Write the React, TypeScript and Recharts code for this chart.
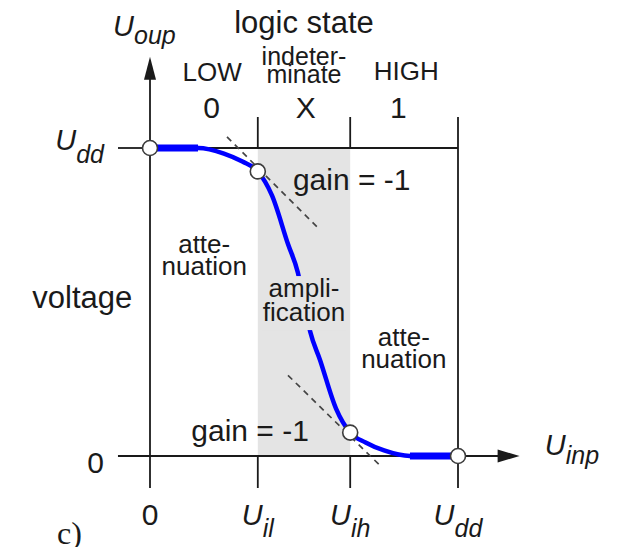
import React from 'react';
import {
  ComposedChart,
  Line,
  XAxis,
  YAxis,
  ReferenceArea,
  ReferenceLine,
  ReferenceDot,
} from 'recharts';

// Transfer curve of an inverter, supply U_dd = 5 V
const inputVoltage = [0, 0.78, 1.2, 1.5, 1.75, 1.98, 2.24, 2.4, 2.5, 2.6, 2.76, 3.02, 3.25, 3.5, 3.8, 4.22, 5];
const outputVoltage = [5, 5, 4.91, 4.78, 4.62, 4.23, 3.44, 2.98, 2.5, 2.02, 1.56, 0.77, 0.38, 0.22, 0.09, 0, 0];

const U_DD = 5;
const U_IL = 1.75;
const U_IH = 3.25;

// end points and the two points where gain = -1
const markerIndex = [0, 4, 12, 16];

// tangents with slope -1 at U_il and U_ih
const upperTangent = [{ x: 1.25, y: 5.18 }, { x: 2.76, y: 3.67 }];
const lowerTangent = [{ x: 2.24, y: 1.31 }, { x: 3.77, y: -0.19 }];

const inputTicks = [0, U_IL, U_IH, U_DD];
const inputTickLabels = [['0', ''], ['U', 'il'], ['U', 'ih'], ['U', 'dd']];
const outputTicks = [0, U_DD];
const outputTickLabels = [['0', ''], ['U', 'dd']];
const regionTicks = [U_IL, U_IH, U_DD];

const stateNames = [['LOW'], ['indeter-', 'minate'], ['HIGH']];
const stateSymbols = ['0', 'X', '1'];

const FONT = 'Liberation Sans, Arial, Helvetica, sans-serif';
const INK = '#1a1a1a';
const BLUE = '#0000ff';
const SHADE = '#e4e4e4';

const curve = inputVoltage.map((x, i) => ({ x, y: outputVoltage[i] }));

type NoteOpts = {
  size?: number;
  anchor?: 'start' | 'middle' | 'end';
  lineHeight?: number;
  background?: string;
};

// multi-line text, drawn as the shape of a reference dot
const note = (lines: string[], { size = 26, anchor = 'middle', lineHeight = 22, background }: NoteOpts = {}) =>
  (props: any) => (
    <g>
      {background && (
        <rect
          x={props.cx - 42}
          y={props.cy - 21}
          width={84}
          height={lineHeight * (lines.length - 1) + 30}
          fill={background}
        />
      )}
      <text x={props.cx} y={props.cy} fontSize={size} textAnchor={anchor} fontFamily={FONT} fill={INK}>
        {lines.map((line, i) => (
          <tspan key={line} x={props.cx} dy={i === 0 ? 0 : lineHeight}>
            {line}
          </tspan>
        ))}
      </text>
    </g>
  );

const symbol = (main: string, sub: string, shift = 8) => (props: any) => (
  <text x={props.cx} y={props.cy} fontFamily={FONT} fontStyle="italic" fill={INK}>
    <tspan fontSize={29}>{main}</tspan>
    <tspan fontSize={25} dy={shift}>{sub}</tspan>
  </text>
);

const arrowUp = (p: any) => (
  <polygon points={`${p.cx},${p.cy} ${p.cx - 6},${p.cy + 23} ${p.cx + 6},${p.cy + 23}`} fill={INK} />
);
const arrowRight = (p: any) => (
  <polygon points={`${p.cx},${p.cy} ${p.cx - 22},${p.cy - 6.5} ${p.cx - 22},${p.cy + 6.5}`} fill={INK} />
);

const marker = (p: any) => (
  <circle cx={p.cx} cy={p.cy} r={7.5} fill="#fff" stroke="#3c3c3c" strokeWidth={1.6} />
);

const InputTick = ({ x, y, payload }: any) => {
  const [main, sub] = inputTickLabels[inputTicks.indexOf(payload.value)];
  return (
    <text x={x} y={y + 35} textAnchor="middle" fontFamily={FONT} fill={INK} fontStyle={sub ? 'italic' : 'normal'}>
      <tspan fontSize={sub ? 29 : 30}>{main}</tspan>
      {sub && (
        <tspan fontSize={25} dy={12}>
          {sub}
        </tspan>
      )}
    </text>
  );
};

const OutputTick = ({ x, y, payload }: any) => {
  const [main, sub] = outputTickLabels[outputTicks.indexOf(payload.value)];
  if (!sub) {
    return (
      <text x={x - 12} y={y + 17} textAnchor="end" fontFamily={FONT} fontSize={30} fill={INK}>
        {main}
      </text>
    );
  }
  return (
    <text x={x - 12} y={y + 2} textAnchor="end" fontFamily={FONT} fontStyle="italic" fill={INK}>
      <tspan fontSize={29}>{main}</tspan>
      <tspan fontSize={25} dy={13}>
        {sub}
      </tspan>
    </text>
  );
};

const lineStyle = { stroke: INK, strokeWidth: 1.8 };
const tangentStyle = { stroke: '#444', strokeWidth: 1.7, strokeDasharray: '6 5' };

export default function App() {
  return (
    <div style={{ margin: -8 }}>
      <ComposedChart width={618} height={555} data={curve} margin={{ top: 117, right: 160, bottom: 0, left: 0 }}>
        <XAxis
          dataKey="x"
          type="number"
          domain={[0, U_DD]}
          ticks={inputTicks}
          interval={0}
          height={99}
          tickSize={32}
          axisLine={false}
          tickLine={lineStyle}
          tick={InputTick}
        />
        <XAxis
          xAxisId="top"
          orientation="top"
          dataKey="x"
          type="number"
          domain={[0, U_DD]}
          ticks={regionTicks}
          interval={0}
          height={31}
          tickSize={31}
          axisLine={false}
          tickLine={lineStyle}
          tick={() => <g />}
        />
        <YAxis
          type="number"
          domain={[0, U_DD]}
          ticks={outputTicks}
          interval={0}
          width={150}
          tickSize={32}
          axisLine={false}
          tickLine={lineStyle}
          tick={OutputTick}
        />

        {/* indeterminate input range */}
        <ReferenceArea x1={U_IL} x2={U_IH} y1={0} y2={U_DD} fill={SHADE} fillOpacity={1} stroke="none" zIndex={-50} />

        {/* frame and axes */}
        <ReferenceLine y={U_DD} {...lineStyle} zIndex={300} />
        <ReferenceLine x={U_DD} {...lineStyle} zIndex={300} />
        <ReferenceLine segment={[{ x: 0, y: 0 }, { x: 0, y: 6.2 }]} ifOverflow="visible" {...lineStyle} zIndex={300} />
        <ReferenceLine segment={[{ x: -0.52, y: 0 }, { x: 5.8, y: 0 }]} ifOverflow="visible" {...lineStyle} zIndex={300} />

        {/* gain = -1 tangents */}
        <ReferenceLine segment={upperTangent} ifOverflow="visible" {...tangentStyle} zIndex={300} />
        <ReferenceLine segment={lowerTangent} ifOverflow="visible" {...tangentStyle} zIndex={300} />

        <Line dataKey="y" type="monotone" stroke={BLUE} strokeWidth={4.5} dot={false} isAnimationActive={false} />
        <Line data={curve.slice(0, 2)} dataKey="y" type="linear" stroke={BLUE} strokeWidth={7} dot={false} isAnimationActive={false} />
        <Line data={curve.slice(-2)} dataKey="y" type="linear" stroke={BLUE} strokeWidth={7} dot={false} isAnimationActive={false} />

        <ReferenceDot x={0} y={6.48} ifOverflow="visible" shape={arrowUp} zIndex={600} />
        <ReferenceDot x={6.0} y={0} ifOverflow="visible" shape={arrowRight} zIndex={600} />

        {markerIndex.map((i) => (
          <ReferenceDot key={i} x={inputVoltage[i]} y={outputVoltage[i]} ifOverflow="visible" shape={marker} zIndex={700} />
        ))}

        {/* logic state header */}
        <ReferenceDot x={2.5} y={6.87} ifOverflow="visible" shape={note(['logic state'], { size: 31 })} zIndex={2000} />
        <ReferenceDot x={1.01} y={6.09} ifOverflow="visible" shape={note(stateNames[0], { size: 26 })} zIndex={2000} />
        <ReferenceDot x={2.5} y={6.35} ifOverflow="visible" shape={note(stateNames[1], { size: 25, lineHeight: 18 })} zIndex={2000} />
        <ReferenceDot x={4.16} y={6.1} ifOverflow="visible" shape={note(stateNames[2], { size: 26 })} zIndex={2000} />
        <ReferenceDot x={1.0} y={5.49} ifOverflow="visible" shape={note([stateSymbols[0]], { size: 30 })} zIndex={2000} />
        <ReferenceDot x={2.53} y={5.49} ifOverflow="visible" shape={note([stateSymbols[1]], { size: 30 })} zIndex={2000} />
        <ReferenceDot x={4.03} y={5.49} ifOverflow="visible" shape={note([stateSymbols[2]], { size: 30 })} zIndex={2000} />

        {/* axis names */}
        <ReferenceDot x={-0.6} y={6.82} ifOverflow="visible" shape={symbol('U', 'oup', 8)} zIndex={2000} />
        <ReferenceDot x={6.41} y={0.02} ifOverflow="visible" shape={symbol('U', 'inp', 9)} zIndex={2000} />
        <ReferenceDot x={-1.1} y={2.4} ifOverflow="visible" shape={note(['voltage'], { size: 31 })} zIndex={2000} />

        {/* region notes */}
        <ReferenceDot x={2.32} y={4.32} ifOverflow="visible" shape={note(['gain = -1'], { size: 30, anchor: 'start' })} zIndex={2000} />
        <ReferenceDot x={0.67} y={0.24} ifOverflow="visible" shape={note(['gain = -1'], { size: 30, anchor: 'start' })} zIndex={2000} />
        <ReferenceDot x={0.88} y={3.3} ifOverflow="visible" shape={note(['atte-', 'nuation'])} zIndex={2000} />
        <ReferenceDot x={2.5} y={2.58} ifOverflow="visible" shape={note(['ampli-', 'fication'], { lineHeight: 24, background: SHADE })} zIndex={2000} />
        <ReferenceDot x={4.12} y={1.79} ifOverflow="visible" shape={note(['atte-', 'nuation'])} zIndex={2000} />

        <ReferenceDot
          x={-1.51}
          y={-1.43}
          ifOverflow="visible"
          shape={(p: any) => (
            <text x={p.cx} y={p.cy} fontFamily="Liberation Serif, Times New Roman, serif" fontSize={32} fill={INK}>
              c)
            </text>
          )}
          zIndex={2000}
        />
      </ComposedChart>
    </div>
  );
}
